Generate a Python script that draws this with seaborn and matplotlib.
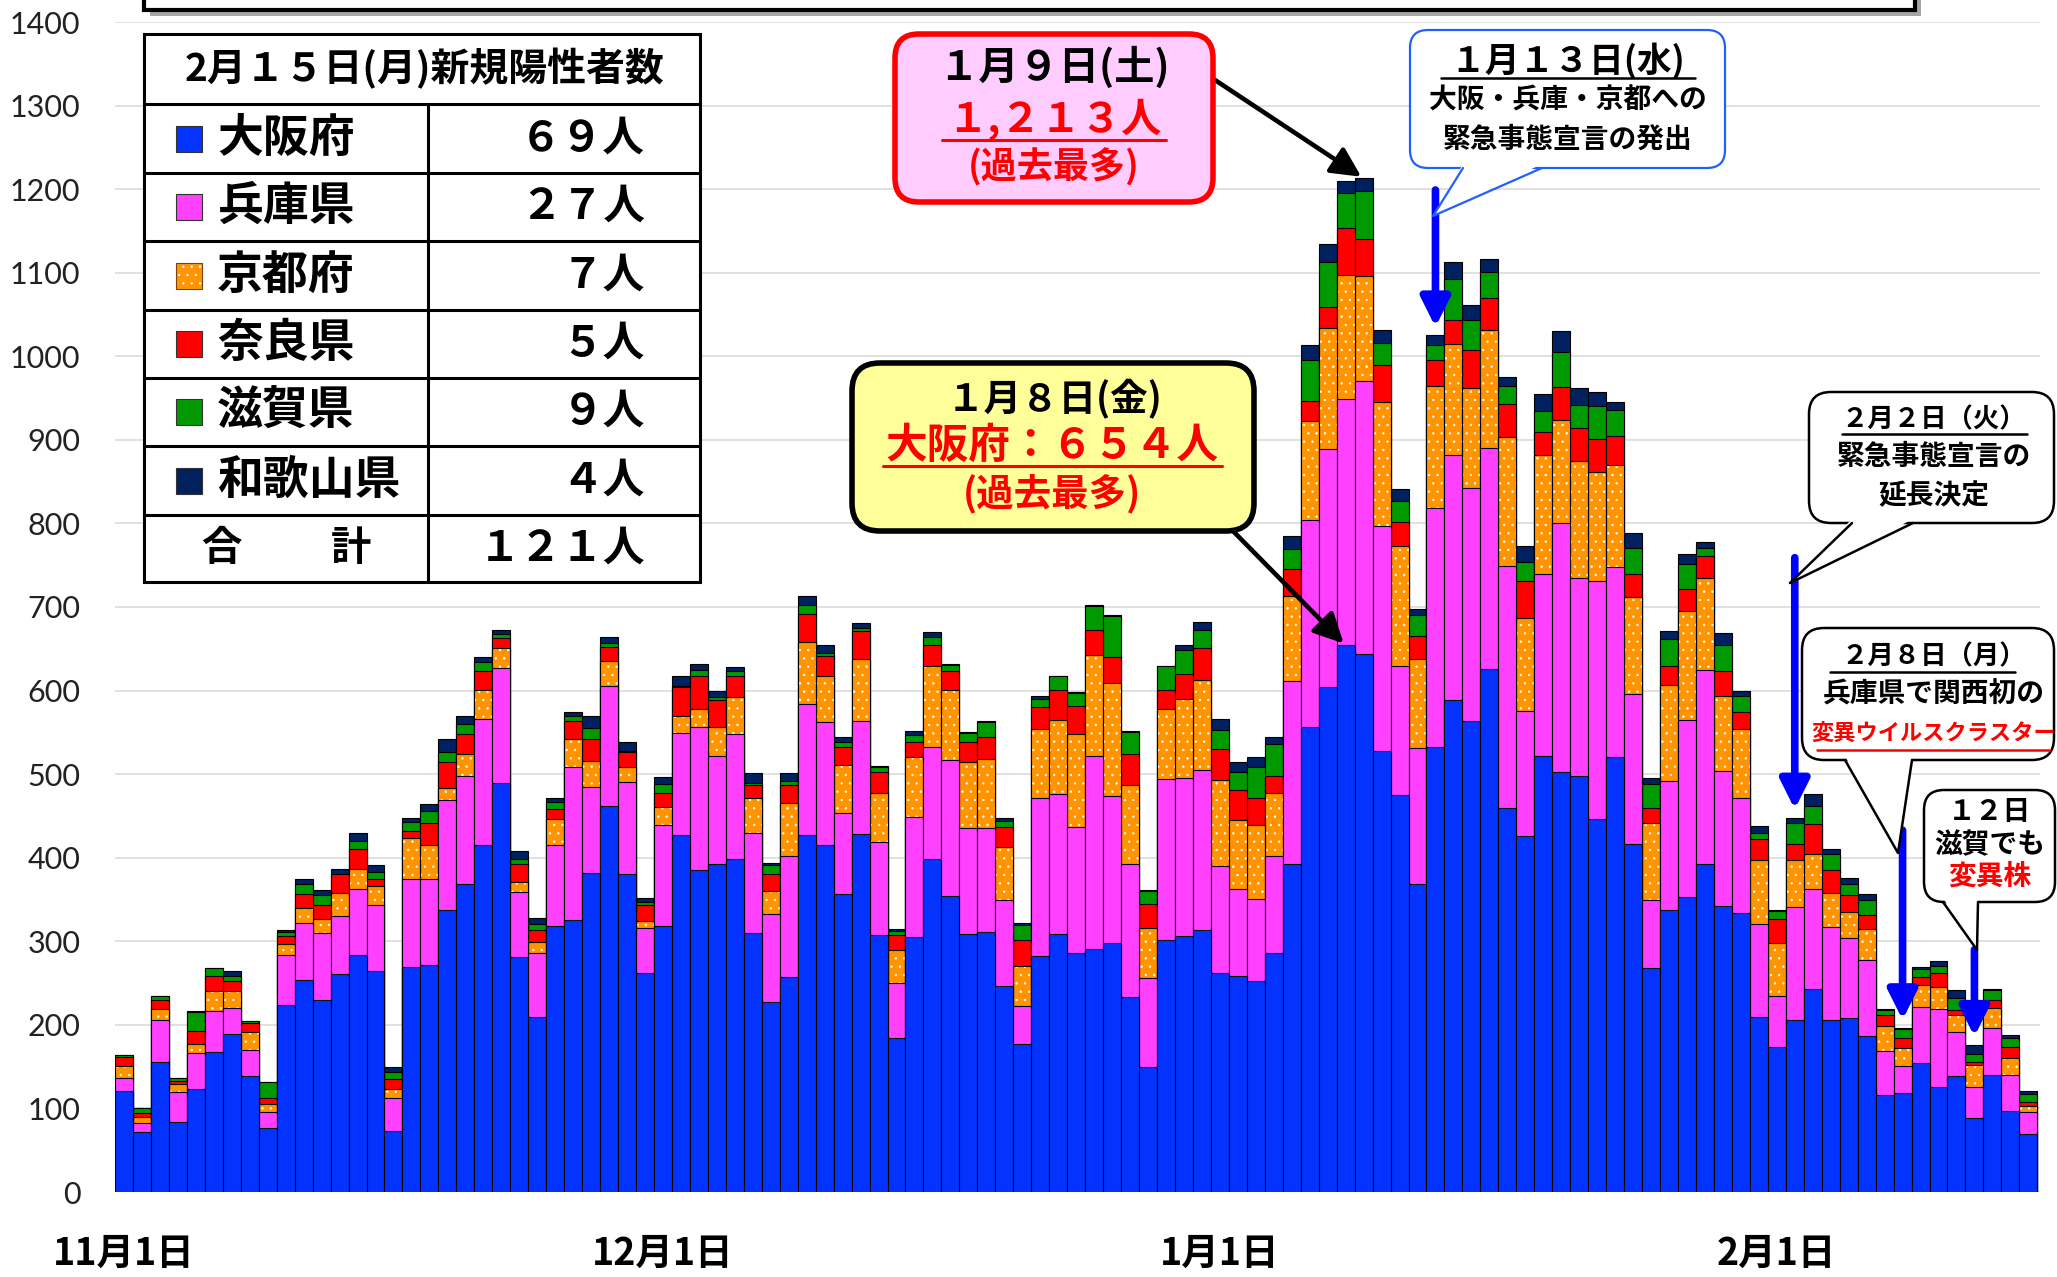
import numpy as np
import pandas as pd
import matplotlib
matplotlib.use('Agg')
import matplotlib.pyplot as plt
import matplotlib.transforms as mtransforms
from matplotlib.patches import FancyBboxPatch, Rectangle, Polygon
from matplotlib.lines import Line2D
import seaborn as sns

# daily new cases, 2020-11-01 .. 2021-02-15
osaka = [121, 72, 155, 84, 123, 168, 189, 139, 77, 224, 254, 230, 261, 284, 265, 73, 269, 272, 337, 369,
         415, 490, 281, 210, 318, 325, 382, 462, 380, 262,
         318, 427, 385, 393, 399, 310, 227, 257, 427, 415, 356, 428, 307, 184, 305, 398, 354, 309, 311, 247,
         177, 282, 309, 286, 291, 298, 233, 149, 302, 306, 313,
         262, 258, 253, 286, 393, 557, 604, 654, 644, 528, 475, 369, 533, 589, 564, 626, 460, 426, 522, 502,
         498, 446, 521, 416, 268, 338, 353, 393, 342, 334, 209,
         173, 206, 243, 206, 208, 187, 116, 118, 154, 126, 139, 88, 140, 97, 69]
hyogo = [15, 11, 51, 36, 43, 48, 31, 31, 19, 60, 68, 80, 69, 79, 79, 39, 105, 103, 132, 129,
         151, 137, 78, 76, 97, 184, 103, 143, 111, 54,
         121, 122, 172, 129, 149, 119, 106, 145, 157, 147, 98, 135, 112, 66, 144, 135, 163, 127, 125, 103,
         46, 190, 167, 151, 231, 176, 160, 107, 192, 189, 192,
         128, 104, 98, 116, 218, 247, 285, 295, 326, 269, 155, 162, 286, 293, 278, 264, 289, 150, 217, 299,
         237, 285, 227, 180, 81, 154, 212, 232, 162, 137, 112,
         61, 135, 120, 111, 96, 91, 53, 33, 67, 93, 53, 38, 56, 43, 27]
kyoto = [15, 7, 13, 9, 11, 25, 21, 22, 9, 13, 18, 17, 28, 24, 22, 11, 49, 40, 14, 26,
         35, 24, 12, 13, 31, 33, 31, 30, 17, 8,
         22, 21, 21, 35, 44, 43, 27, 64, 74, 55, 57, 75, 59, 40, 72, 97, 84, 79, 82, 63,
         47, 82, 89, 111, 121, 135, 94, 60, 84, 95, 108,
         103, 83, 88, 75, 102, 119, 145, 148, 126, 148, 143, 107, 146, 133, 120, 141, 155, 111, 143, 123,
         140, 131, 122, 116, 92, 115, 130, 110, 90, 83, 76,
         64, 56, 42, 41, 31, 37, 30, 21, 27, 26, 20, 26, 24, 20, 7]
nara = [11, 5, 11, 4, 16, 18, 12, 10, 8, 9, 17, 16, 23, 23, 9, 12, 9, 27, 32, 24,
        22, 12, 21, 15, 12, 22, 26, 17, 18, 19,
        16, 34, 40, 32, 26, 15, 21, 21, 34, 24, 22, 33, 25, 17, 18, 25, 22, 24, 27, 24,
        31, 26, 36, 33, 30, 31, 37, 29, 23, 30, 38,
        37, 36, 32, 21, 32, 23, 25, 57, 44, 45, 29, 27, 30, 28, 46, 39, 39, 44, 27, 39,
        39, 39, 35, 27, 18, 23, 26, 26, 29, 20, 25,
        29, 19, 35, 27, 20, 17, 13, 12, 9, 17, 6, 4, 10, 14, 5]
shiga = [2, 5, 4, 3, 22, 9, 6, 3, 19, 5, 11, 12, 0, 10, 8, 9, 11, 14, 12, 12,
         11, 5, 6, 7, 9, 5, 13, 5, 2, 4,
         11, 2, 7, 3, 6, 2, 10, 5, 10, 4, 6, 4, 6, 5, 8, 9, 8, 10, 17, 7,
         18, 10, 16, 16, 28, 49, 27, 15, 28, 28, 22,
         23, 22, 37, 38, 24, 50, 54, 41, 58, 26, 25, 25, 19, 50, 35, 31, 21, 23, 26, 42,
         28, 39, 31, 32, 29, 32, 31, 10, 31, 19, 7,
         9, 26, 22, 20, 14, 17, 6, 11, 10, 9, 14, 9, 12, 10, 9]
wakayama = [0, 0, 0, 0, 1, 0, 6, 0, 0, 2, 7, 6, 5, 9, 8, 5, 5, 8, 15, 10,
            6, 5, 10, 7, 4, 5, 14, 7, 10, 5,
            9, 11, 7, 8, 4, 12, 3, 9, 11, 10, 6, 6, 1, 3, 5, 6, 1, 1, 1, 4,
            3, 4, 1, 1, 1, 2, 1, 1, 1, 6, 9,
            13, 11, 13, 8, 16, 18, 21, 15, 15, 15, 14, 8, 11, 20, 18, 15, 11, 19, 20, 25,
            20, 17, 9, 17, 7, 9, 12, 7, 15, 6, 9,
            1, 6, 14, 6, 7, 8, 1, 1, 2, 5, 10, 11, 1, 4, 4]

prefs = ['大阪府', '兵庫県', '京都府', '奈良県', '滋賀県', '和歌山県']
colors = ['#0433FF', '#FF40FF', '#FF9300', '#FF0000', '#009A00', '#002060']
tick_pos = [0, 30, 61, 92]
tick_labels = ['11月1日', '12月1日', '1月1日', '2月1日']
y_ticks = list(range(0, 1401, 100))

series = [osaka, hyogo, kyoto, nara, shiga, wakayama]
n = len(osaka)
cum = np.cumsum(np.array(series), axis=0)
total = cum[-1]
df = pd.DataFrame({'day': range(n)})
for k in range(6):
    df['cum%d' % k] = cum[k]

zen = str.maketrans('0123456789', '０１２３４５６７８９')
def zh(v):
    return str(v).translate(zen)

sns.set_theme(style='white')
plt.rcParams['font.family'] = ['Noto Sans CJK JP', 'DejaVu Sans']
plt.rcParams['hatch.linewidth'] = 0.5

W, H = 2057, 1277
fig = plt.figure(figsize=(W / 100, H / 100), dpi=100)
ax = fig.add_axes([115 / W, 1 - 1192 / H, 1925 / W, 1170 / H])

# stacked bars: draw cumulative totals from the top layer down
for k in range(5, -1, -1):
    sns.barplot(data=df, x='day', y='cum%d' % k, color=colors[k], width=1, saturation=1,
                errorbar=None, edgecolor='black', linewidth=0.8, ax=ax)
    if k == 2:
        for p in ax.containers[-1]:
            p.set_edgecolor('white')
            p.set_linewidth(0)
            p.set_hatch('..')
        sns.barplot(data=df, x='day', y='cum2', color='black', width=1, fill=False,
                    errorbar=None, linewidth=0.8, ax=ax)

ax.set_xlim(-0.5, n - 0.35)
ax.set_ylim(0, 1400)
ax.set_yticks(y_ticks, labels=[str(v) for v in y_ticks], fontsize=22, family='Lato', color='#222222')
ax.set_xticks(tick_pos, labels=tick_labels, fontsize=27, fontweight='bold', color='black')
ax.tick_params(axis='y', length=0, pad=25)
ax.tick_params(axis='x', length=0, pad=30)
ax.yaxis.grid(True, color='#D9D9D9', lw=1.1)
ax.set_axisbelow(True)
ax.set_xlabel('')
ax.set_ylabel('')
for s in ax.spines.values():
    s.set_visible(False)

T = mtransforms.IdentityTransform()


def txt(x, y, s, size, color='black', ha='center', z=7):
    fig.text(x, H - y, s, transform=T, ha=ha, va='center', fontsize=size,
             fontweight='bold', color=color, zorder=z)


def hline(x0, x1, y, color='black', lw=2.0, z=7):
    fig.add_artist(Line2D([x0, x1], [H - y, H - y], color=color, lw=lw, transform=T, zorder=z))


def box(x0, y0, x1, y1, fc, ec, lw, r, z=5):
    fig.add_artist(FancyBboxPatch((x0, H - y1), x1 - x0, y1 - y0,
                                  boxstyle='round,pad=0,rounding_size=%d' % r,
                                  fc=fc, ec=ec, lw=lw, transform=T, zorder=z))


def tail(bl, tip, br, ec, lw, z=6):
    fig.add_artist(Polygon([(bl[0], H - bl[1] + 4), (tip[0], H - tip[1]), (br[0], H - br[1] + 4)],
                           closed=True, fc='white', ec='none', transform=T, zorder=z))
    fig.add_artist(Line2D([bl[0], tip[0], br[0]], [H - bl[1], H - tip[1], H - br[1]],
                          color=ec, lw=lw, transform=T, zorder=z))


# remains of the title box at the top
fig.add_artist(Rectangle((150, H - 16), 1771, 60, fc='#A6A6A6', ec='none', transform=T, zorder=4))
fig.add_artist(Rectangle((144, H - 10), 1771, 60, fc='white', ec='black', lw=3, transform=T, zorder=5))

# legend table with the latest day
tx0, tx1, tcol = 144, 700, 428
rows = [34, 104, 173, 241, 310, 378, 446, 515, 582]
fig.add_artist(Rectangle((tx0, H - rows[-1]), tx1 - tx0, rows[-1] - rows[0], fc='white',
                         ec='black', lw=2.2, transform=T, zorder=5))
for yy in rows[1:-1]:
    hline(tx0, tx1, yy, lw=2.2, z=6)
fig.add_artist(Line2D([tcol, tcol], [H - rows[1], H - rows[-1]], color='black', lw=2.2,
                      transform=T, zorder=6))
last = n - 1
txt(425, 69, '2月%s日(月)新規陽性者数' % zh(15), 28)
for k in range(6):
    yc = (rows[k + 1] + rows[k + 2]) / 2
    sq = Rectangle((176, H - yc - 13), 26, 26, fc=colors[k], ec='#333333', lw=0.8,
                   transform=T, zorder=6)
    if k == 2:
        sq.set_edgecolor('white')
        sq.set_hatch('..')
        fig.add_artist(sq)
        fig.add_artist(Rectangle((176, H - yc - 13), 26, 26, fill=False, ec='#7F4000', lw=0.8,
                                 transform=T, zorder=7))
    else:
        fig.add_artist(sq)
    txt(217, yc, prefs[k], 33, ha='left')
    txt(645, yc, zh(series[k][last]) + '人', 30, ha='right')
yc = (rows[7] + rows[8]) / 2
txt(221, yc, '合', 29)
txt(351, yc, '計', 29)
txt(645, yc, zh(total[last]) + '人', 30, ha='right')

# 1/9 peak box
i_peak = 69
box(895, 34, 1213, 202, '#FFCCFF', '#FF0000', 4, 24)
txt(1054, 68, '１月９日(土)', 29)
txt(1054, 120, ('{:,}'.format(total[i_peak])).translate(zen) + '人', 29, color='#FF0000')
hline(942, 1166, 140, color='#FF0000', lw=2.2)
txt(1054, 167, '(過去最多)', 26, color='#FF0000')
ax.annotate('', xy=(i_peak, total[i_peak]), xycoords='data', xytext=(1215, H - 80),
            textcoords='figure pixels',
            arrowprops=dict(arrowstyle='-|>,head_length=0.6,head_width=0.3', color='black',
                            lw=3.3, mutation_scale=30, shrinkA=0, shrinkB=2))

# 1/8 osaka box
i_os = 68
box(852, 363, 1254, 531, '#FFFF99', 'black', 4, 28)
txt(1055, 399, '１月８日(金)', 27)
txt(1052, 446, '大阪府：%s人' % zh(osaka[i_os]), 30, color='#FF0000')
hline(883, 1222, 466, color='#FF0000', lw=2.2)
txt(1052, 494, '(過去最多)', 27, color='#FF0000')
ax.annotate('', xy=(i_os, osaka[i_os]), xycoords='data', xytext=(1233, H - 531),
            textcoords='figure pixels',
            arrowprops=dict(arrowstyle='-|>,head_length=0.6,head_width=0.3', color='black',
                            lw=3.3, mutation_scale=30, shrinkA=0, shrinkB=2))

# blue arrows for events
blue_arrow = dict(arrowstyle='-|>,head_length=0.5,head_width=0.25', color='#0000FF',
                  lw=5.5, mutation_scale=35, shrinkA=0, shrinkB=0)
for idx, start in [(73, 1199), (93, 759), (99, 433), (103, 290)]:
    ax.annotate('', xy=(idx, total[idx] + 10), xycoords='data', xytext=(idx, start),
                textcoords='data', arrowprops=blue_arrow)

# 1/13 declaration
box(1410, 30, 1725, 168, 'white', '#2060FF', 1.6, 18)
tail((1463, 168), (1433, 216), (1542, 168), '#2060FF', 1.6)
txt(1568, 61, '１月１３日(水)', 25)
hline(1441, 1695, 78, lw=1.8)
txt(1568, 101, '大阪・兵庫・京都への', 20)
txt(1568, 140, '緊急事態宣言の発出', 20)

# 2/2 extension
box(1809, 392, 2054, 523, 'white', 'black', 1.8, 22)
tail((1852, 523), (1790, 583), (1913, 523), 'black', 1.8)
txt(1934, 420, '２月２日（火）', 19)
hline(1842, 2027, 434, lw=1.8)
txt(1934, 457, '緊急事態宣言の', 20)
txt(1934, 496, '延長決定', 20)

# 2/8 variant cluster
box(1802, 628, 2054, 760, 'white', 'black', 1.8, 22)
tail((1845, 760), (1898, 853), (1912, 760), 'black', 1.8)
txt(1934, 657, '２月８日（月）', 19)
hline(1830, 2015, 672, lw=1.8)
txt(1934, 695, '兵庫県で関西初の', 20)
txt(1934, 734, '変異ウイルスクラスター', 16, color='#FF0000')
hline(1817, 2050, 750, color='#FF0000', lw=1.8)

# 2/12 shiga
box(1924, 790, 2055, 902, 'white', 'black', 1.8, 20)
tail((1943, 902), (1977, 950), (1978, 902), 'black', 1.8)
txt(1990, 812, '１２日', 20)
txt(1990, 845, '滋賀でも', 20)
txt(1990, 877, '変異株', 20, color='#FF0000')

fig.savefig('out.png', dpi=100)
